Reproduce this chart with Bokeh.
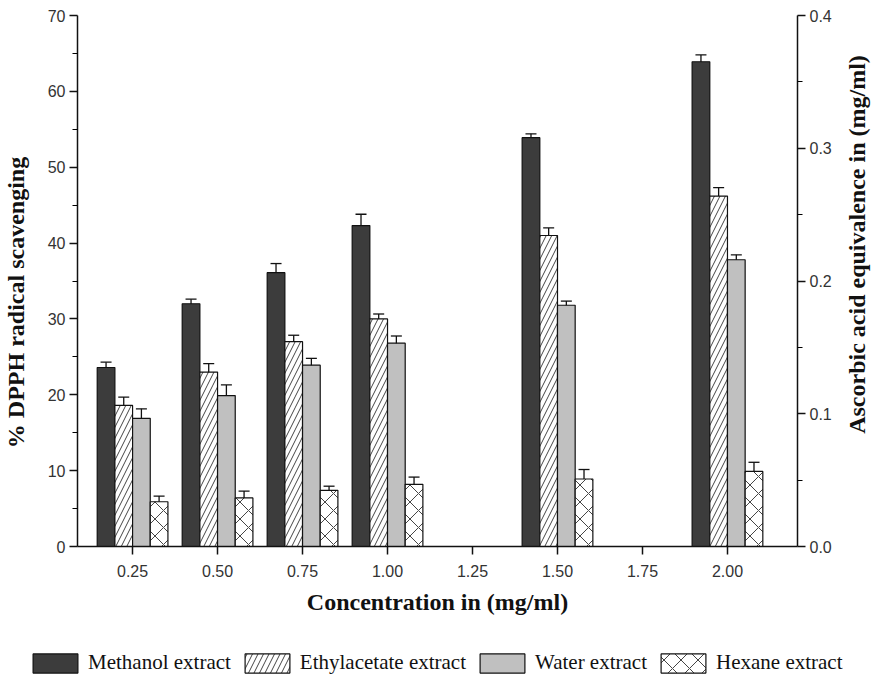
import math
from bokeh.plotting import figure
from bokeh.layouts import column, row
from bokeh.models import (ColumnDataSource, Range1d, LinearAxis, FixedTicker,
                          NumeralTickFormatter, Whisker, TeeHead, Legend, LegendItem, Title)
from bokeh.embed import file_html
from bokeh.resources import INLINE

# ---- data ----
conc = [0.25, 0.50, 0.75, 1.00, 1.50, 2.00]
series_names = ["Methanol extract", "Ethylacetate extract", "Water extract", "Hexane extract"]
methanol = [23.6, 32.0, 36.1, 42.3, 53.9, 63.9]
methanol_err = [0.7, 0.6, 1.2, 1.5, 0.5, 0.9]
ethylacetate = [18.6, 23.0, 27.0, 30.0, 41.0, 46.2]
ethylacetate_err = [1.1, 1.1, 0.85, 0.65, 1.0, 1.1]
water = [16.9, 19.9, 23.9, 26.8, 31.8, 37.8]
water_err = [1.25, 1.4, 0.9, 0.95, 0.55, 0.65]
hexane = [5.9, 6.4, 7.4, 8.2, 8.9, 9.9]
hexane_err = [0.75, 0.9, 0.55, 0.95, 1.25, 1.2]
x_ticks = [0.25, 0.50, 0.75, 1.00, 1.25, 1.50, 1.75, 2.00]
x_title = "Concentration in (mg/ml)"
y_title = "% DPPH radical scavenging"
y2_title = "Ascorbic acid equivalence in (mg/ml)"

values = [methanol, ethylacetate, water, hexane]
errors = [methanol_err, ethylacetate_err, water_err, hexane_err]

# ---- styles ----
bar_w = 0.052
fills = ["#3c3c3c", "white", "#c0c0c0", "white"]
hatches = [None, "right_diagonal_line", None, "diagonal_cross"]
hatch_scales = [8, 11, 8, 17]
label_font = "Liberation Serif"
tick_font = "Liberation Sans"


def bar_style(i):
    kw = dict(fill_color=fills[i], line_color="#111111", line_width=1.2)
    if hatches[i]:
        kw.update(hatch_pattern=hatches[i], hatch_scale=hatch_scales[i],
                  hatch_color="#444444", hatch_weight=1)
    return kw


def bare(width, height, **borders):
    f = figure(width=width, height=height, output_backend="svg", toolbar_location=None,
               title=None, x_range=Range1d(100, 101), y_range=Range1d(100, 101),
               x_axis_location=None, y_axis_location=None, **borders)
    f.frame_align = False
    f.outline_line_color = None
    f.xgrid.visible = False
    f.ygrid.visible = False
    return f


def side_title(text):
    return Title(text=text, align="center", standoff=0, text_font=label_font,
                 text_font_size="24px", text_font_style="bold", text_color="#111111")


# ---- main chart ----
p = figure(width=797, height=636, output_backend="svg", toolbar_location=None,
           x_range=Range1d(0.088, 2.206), y_range=Range1d(0, 70),
           min_border_left=33, min_border_right=44, min_border_top=15,
           min_border_bottom=90)
p.frame_align = False
p.outline_line_color = None
p.xgrid.visible = False
p.ygrid.visible = False

sources = []
for i, (vals, errs) in enumerate(zip(values, errors)):
    off = (i - 1.5) * bar_w
    xs = [c + off for c in conc]
    src = ColumnDataSource(dict(x=xs, top=vals,
                                upper=[v + e for v, e in zip(vals, errs)],
                                lower=[v - e for v, e in zip(vals, errs)]))
    sources.append(src)
    p.vbar(x="x", top="top", width=bar_w, bottom=0, source=src, **bar_style(i))
    w = Whisker(source=src, base="x", upper="upper", lower="lower",
                line_color="#111111", line_width=1.3,
                upper_head=TeeHead(size=11, line_color="#111111", line_width=1.3),
                lower_head=TeeHead(size=11, line_color="#111111", line_width=1.3))
    p.add_layout(w)

xa = p.xaxis[0]
xa.ticker = FixedTicker(ticks=x_ticks)
xa.formatter = NumeralTickFormatter(format="0.00")
xa.axis_label = x_title

ya = p.yaxis[0]
ya.ticker = FixedTicker(ticks=list(range(0, 71, 10)), minor_ticks=list(range(5, 70, 10)))

p.extra_y_ranges = {"aa": Range1d(0, 0.4)}
ra = LinearAxis(y_range_name="aa",
                ticker=FixedTicker(ticks=[0.0, 0.1, 0.2, 0.3, 0.4],
                                   minor_ticks=[0.05, 0.15, 0.25, 0.35]),
                formatter=NumeralTickFormatter(format="0.0"))
p.add_layout(ra, "right")

for ax in [xa, ya, ra]:
    ax.axis_line_color = "#111111"
    ax.axis_line_width = 1.5
    ax.major_tick_line_color = "#111111"
    ax.major_tick_line_width = 1.5
    ax.major_tick_in = 0
    ax.major_tick_out = 8
    ax.minor_tick_in = 0
    ax.minor_tick_out = 5
    ax.minor_tick_line_width = 1.2
    ax.major_label_text_font = tick_font
    ax.major_label_text_font_size = "16px"
    ax.major_label_text_color = "#333333"
    ax.major_label_standoff = 4

xa.minor_tick_line_color = None
xa.major_label_standoff = 10
xa.axis_label_text_font = label_font
xa.axis_label_text_font_style = "bold"
xa.axis_label_text_color = "#111111"
xa.axis_label_text_font_size = "24px"
xa.axis_label_standoff = 9

# ---- left title strip ----
lf = bare(44, 636, min_border_left=11, min_border_right=0,
          min_border_top=0, min_border_bottom=32)
lf.add_layout(side_title(y_title), "left")

# ---- right title strip ----
rf = bare(30, 636, min_border_left=2, min_border_right=0,
          min_border_top=0, min_border_bottom=148)
rf.add_layout(side_title(y2_title), "left")

# ---- legend strip below the chart (proxy bars lie outside its view) ----
lg = bare(871, 47, min_border=0, min_border_left=0, min_border_right=0,
          min_border_top=0, min_border_bottom=0)
items = []
for i in range(4):
    r = lg.vbar(x="x", top="top", width=bar_w, bottom=0, source=sources[i], **bar_style(i))
    items.append(LegendItem(label=series_names[i], renderers=[r]))
legend = Legend(items=items, orientation="horizontal", location=(27, 8),
                label_text_font=label_font, label_text_font_size="21px",
                label_text_color="#111111",
                glyph_width=56, glyph_height=24, spacing=8, label_standoff=5,
                padding=0, margin=0, border_line_color=None,
                background_fill_alpha=0)
lg.add_layout(legend, "center")

layout = column(row(lf, p, rf, spacing=0), lg, spacing=0)
open("out.html", "w").write(file_html(layout, INLINE))
